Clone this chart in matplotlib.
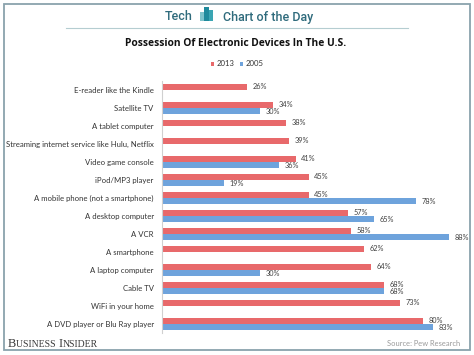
import matplotlib
matplotlib.use("Agg")
import matplotlib.pyplot as plt
from matplotlib.patches import Rectangle
from matplotlib.lines import Line2D
from matplotlib.offsetbox import TextArea, HPacker, AnnotationBbox
import numpy as np

categories = ["E-reader like the Kindle", "Satellite TV", "A tablet computer",
              "Streaming internet service like Hulu, Netflix", "Video game console",
              "iPod/MP3 player", "A mobile phone (not a smartphone)", "A desktop computer",
              "A VCR", "A smartphone", "A laptop computer", "Cable TV",
              "WiFi in your home", "A DVD player or Blu Ray player"]
v2013 = [26, 34, 38, 39, 41, 45, 45, 57, 58, 62, 64, 68, 73, 80]
v2005 = [None, 30, None, None, 36, 19, 78, 65, 88, None, 30, 68, None, 83]
series_labels = ["2013", "2005"]

W, H = 474, 355
fig = plt.figure(figsize=(W / 100, H / 100), dpi=100)
fig.patch.set_facecolor("white")

def fx(px):
    return px / W

def fy(py):
    return 1 - py / H

RED = "#e8696b"
BLUE = "#6ea3dc"
LBL = "Lato"

ax = fig.add_axes([fx(162), fy(333), fx(462) - fx(162), fy(81) - fy(333)])
n = len(categories)
y = np.arange(n)
off = 0.17
hgt = 0.30

r_idx = [i for i, v in enumerate(v2013) if v is not None]
b_idx = [i for i, v in enumerate(v2005) if v is not None]
ax.barh([y[i] - off for i in r_idx], [v2013[i] for i in r_idx], height=hgt, color=RED, edgecolor="none")
ax.barh([y[i] + off for i in b_idx], [v2005[i] for i in b_idx], height=hgt, color=BLUE, edgecolor="none")

for i in r_idx:
    ax.annotate(f"{v2013[i]}%", (v2013[i], y[i] - off), xytext=(4, 0), textcoords="offset points",
                va="center", ha="left", fontsize=5.3, color="#404040", family=LBL)
for i in b_idx:
    ax.annotate(f"{v2005[i]}%", (v2005[i], y[i] + off), xytext=(4, 0), textcoords="offset points",
                va="center", ha="left", fontsize=5.3, color="#404040", family=LBL)

ax.set_xlim(0, 92)
ax.set_ylim(n - 0.5, -0.5)
ax.set_yticks(y)
ax.set_yticklabels(categories, fontsize=5.6, color="#333333", family=LBL)
ax.tick_params(axis="y", length=0, pad=6)
ax.set_xticks([])
for s in ["top", "right", "bottom"]:
    ax.spines[s].set_visible(False)
ax.spines["left"].set_color("#d0d0d0")
ax.spines["left"].set_linewidth(0.8)
ax.set_facecolor("none")

# frame
fig.add_artist(Rectangle((fx(4), fy(350)), fx(470) - fx(4), fy(4) - fy(350), transform=fig.transFigure,
                         fill=False, edgecolor="#8aa3ad", linewidth=1.3))

# header
TEAL = "#2f6b7c"
fig.text(fx(193), fy(17), "Tech", ha="right", va="center", fontsize=9, color=TEAL,
         family="Roboto", fontweight="medium")
fig.text(fx(223), fy(17), "Chart of the Day", ha="left", va="center", fontsize=9, color=TEAL,
         family="Roboto", fontweight="medium")
icon = [(200, 12, 4, "#7fc4cc"), (204, 7, 4.5, "#1f8a9c"), (208.5, 10, 4.5, "#3aa5b3")]
for x0, y0, w, c in icon:
    fig.add_artist(Rectangle((fx(x0), fy(21)), fx(w), fy(y0) - fy(21), transform=fig.transFigure,
                             facecolor=c, edgecolor="none"))
fig.add_artist(Line2D([fx(66), fx(408)], [fy(28), fy(28)], transform=fig.transFigure,
                      color="#b5cdd1", linewidth=0.8))

# title
fig.text(fx(236), fy(44), "Possession Of Electronic Devices In The U.S.", ha="center", va="center",
         fontsize=7.4, fontweight="bold", color="#111111", family="Open Sans")

# legend
fig.add_artist(Rectangle((fx(210.5), fy(66)), fx(3.5), fy(62) - fy(66), transform=fig.transFigure,
                         facecolor=RED, edgecolor="none"))
fig.text(fx(216.5), fy(64), series_labels[0], ha="left", va="center", fontsize=5.6, color="#333333", family=LBL)
fig.add_artist(Rectangle((fx(239.5), fy(66)), fx(3.5), fy(62) - fy(66), transform=fig.transFigure,
                         facecolor=BLUE, edgecolor="none"))
fig.text(fx(245.5), fy(64), series_labels[1], ha="left", va="center", fontsize=5.6, color="#333333", family=LBL)

# Business Insider small caps
parts = [("B", 9.0), ("USINESS ", 7.0), ("I", 9.0), ("NSIDER", 7.0)]
boxes = [TextArea(t, textprops=dict(fontsize=s, family="Liberation Serif", color="#3a3a3a")) for t, s in parts]
pack = HPacker(children=boxes, align="baseline", pad=0, sep=0)
ab = AnnotationBbox(pack, (fx(8), fy(344)), xycoords="figure fraction", box_alignment=(0, 0.5),
                    frameon=False, pad=0)
fig.add_artist(ab)

fig.text(fx(460), fy(343), "Source: Pew Research", ha="right", va="center", fontsize=5.4,
         color="#9a9a9a", family=LBL)

fig.savefig("out.png", dpi=100, facecolor="white")
